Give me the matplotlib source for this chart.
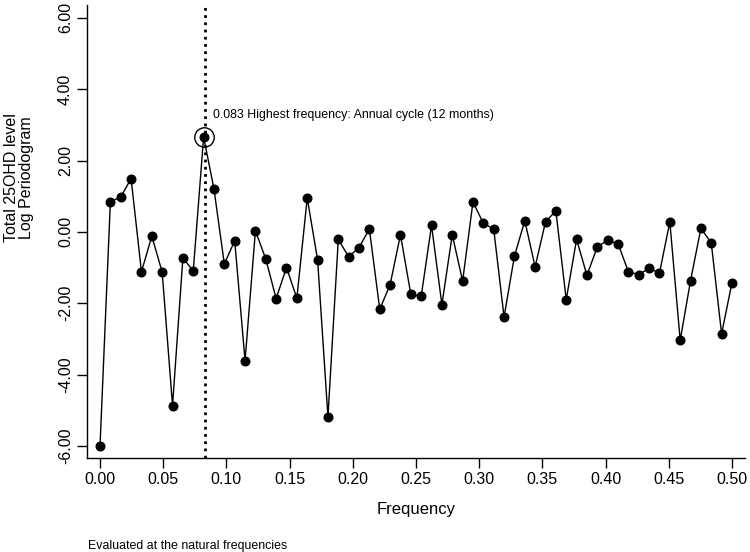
import numpy as np
import matplotlib
matplotlib.use("Agg")
import matplotlib.pyplot as plt

plt.rcParams['font.family'] = ['Liberation Sans', 'DejaVu Sans']

n_obs = 122
freq = np.arange(0, 62) / n_obs
log_pgram = [
    -6.00, 0.84, 0.98, 1.49, -1.12, -0.12, -1.13, -4.87, -0.73, -1.10,
    2.66, 1.20, -0.90, -0.25, -3.61, 0.03, -0.76, -1.87, -1.00, -1.86,
    0.95, -0.78, -5.19, -0.21, -0.70, -0.44, 0.08, -2.17, -1.48, -0.08,
    -1.75, -1.81, 0.18, -2.04, -0.08, -1.38, 0.84, 0.24, 0.08, -2.39,
    -0.68, 0.31, -0.98, 0.28, 0.59, -1.90, -0.21, -1.22, -0.42, -0.24,
    -0.33, -1.12, -1.20, -1.02, -1.16, 0.28, -3.04, -1.37, 0.10, -0.31,
    -2.86, -1.42,
]
peak_freq = 0.083
peak_label = "0.083 Highest frequency: Annual cycle (12 months)"
xticks = [0.00, 0.05, 0.10, 0.15, 0.20, 0.25, 0.30, 0.35, 0.40, 0.45, 0.50]
yticks = [-6, -4, -2, 0, 2, 4, 6]

fig = plt.figure(figsize=(7.5, 5.52), dpi=100)
ax = fig.add_axes([87/750, 1-458/552, (745-87)/750, (458-5)/552])

ax.plot(freq, log_pgram, color='black', lw=1.0, marker='o', ms=6.2,
        mfc='black', mec='black', zorder=3)
ax.axvline(peak_freq, color='black', lw=2.0, ls=(0, (1, 1.6)), zorder=2)

ipk = int(np.argmax(log_pgram))
ax.plot(freq[ipk], log_pgram[ipk], marker='o', ms=14, mfc='none',
        mec='black', mew=1.0, zorder=4)
ax.text(0.0894, 3.27, peak_label, fontsize=8.9, va='center', ha='left')

ax.set_xlim(-0.0103, 0.5103)
ax.set_ylim(-6.34, 6.36)
ax.set_xticks(xticks)
ax.set_xticklabels([f"{v:.2f}" for v in xticks], fontsize=11.5)
ax.set_yticks(yticks)
ax.set_yticklabels([f"{v:.2f}" for v in yticks], fontsize=11.5, rotation=90,
                   va='center')
ax.tick_params(direction='out', length=7, width=1, pad=3)
for s in ['top', 'right']:
    ax.spines[s].set_visible(False)
for s in ['left', 'bottom']:
    ax.spines[s].set_linewidth(1)

ax.set_xlabel("Frequency", fontsize=12, labelpad=11)
fig.text(19/750, 1-178/552, "Total 25OHD level\nLog Periodogram",
         rotation=90, ha='center', va='center', fontsize=11.5, linespacing=1.0)
fig.text(88/750, 1-546/552, "Evaluated at the natural frequencies",
         fontsize=8.9, ha='left', va='center')

fig.savefig("out.png", dpi=100)
